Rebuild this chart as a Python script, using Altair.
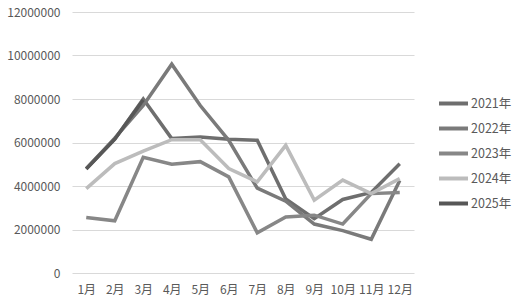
import altair as alt
import pandas as pd

months = ["1月", "2月", "3月", "4月", "5月", "6月", "7月", "8月", "9月", "10月", "11月", "12月"]
years = ["2021年", "2022年", "2023年", "2024年", "2025年"]
colors = ["#6e6e6e", "#7a7a7a", "#878787", "#bcbcbc", "#575757"]

s2021 = [4800000, 6150000, 8000000, 6180000, 6250000, 6150000, 6100000, 3400000, 2500000, 3380000, 3700000, 5020000]
s2022 = [4800000, 6200000, 7700000, 9600000, 7700000, 6100000, 3900000, 3300000, 2250000, 1950000, 1550000, 4250000]
s2023 = [2550000, 2400000, 5320000, 5000000, 5120000, 4420000, 1850000, 2580000, 2660000, 2250000, 3650000, 3700000]
s2024 = [3880000, 5030000, 5600000, 6130000, 6130000, 4800000, 4190000, 5870000, 3350000, 4270000, 3650000, 4340000]
s2025 = [4780000, 6150000, 7950000]

series = [s2021, s2022, s2023, s2024, s2025]
rows = []
for y, vals in zip(years, series):
    for m, v in zip(months, vals):
        rows.append({"month": m, "year": y, "value": v})
df = pd.DataFrame(rows)

font = "Noto Sans CJK SC"

chart = alt.Chart(df).mark_line(strokeWidth=3.5, strokeCap="butt", strokeJoin="miter").encode(
    x=alt.X("month:N", sort=months, scale=alt.Scale(type="point", padding=0.5),
            axis=alt.Axis(title=None, labelAngle=0, domain=False, ticks=False, labelPadding=11,
                          labelFontSize=12, labelColor="#595959", labelFont=font, grid=False)),
    y=alt.Y("value:Q", scale=alt.Scale(domain=[0, 12000000], nice=False),
            axis=alt.Axis(title=None, values=[0, 2000000, 4000000, 6000000, 8000000, 10000000, 12000000],
                          format="d", domain=False, ticks=False, labelPadding=12,
                          labelFontSize=12, labelColor="#595959", labelFont=font,
                          gridColor="#d9d9d9", gridWidth=1)),
    color=alt.Color("year:N", scale=alt.Scale(domain=years, range=colors),
                    legend=alt.Legend(title=None, orient="none", legendX=365, legendY=75,
                                      symbolType="stroke", symbolSize=841, symbolStrokeWidth=4,
                                      labelFontSize=12.5, labelColor="#595959", labelFont=font,
                                      rowPadding=-5.5, labelOffset=1)),
    order=alt.Order("year:N"),
).properties(
    width=342, height=261,
    autosize=alt.AutoSizeParams(type="none"),
    padding={"left": 72, "top": 12, "right": 100, "bottom": 29},
    background="white",
).configure_view(stroke=None)

chart.save("out.html", embed_options={"renderer": "svg", "actions": False})
